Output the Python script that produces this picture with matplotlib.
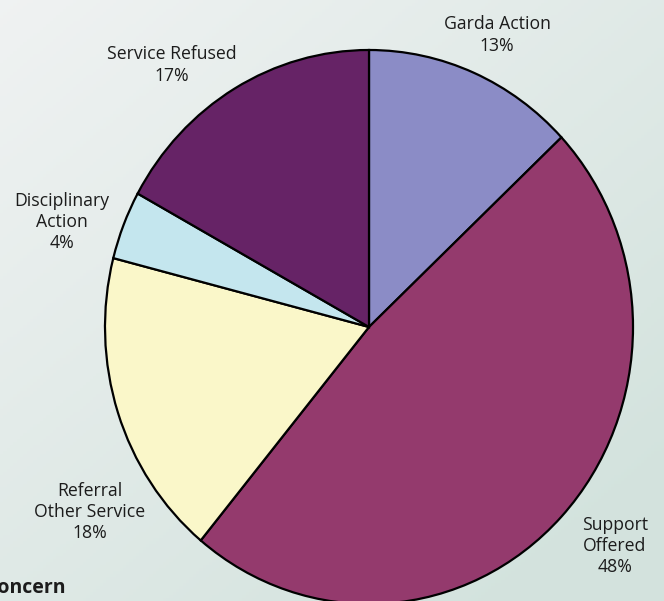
import numpy as np
import matplotlib

matplotlib.use("Agg")
import matplotlib.pyplot as plt

W, H = 664, 601

categories = ["Garda Action", "Support Offered", "Referral Other Service",
              "Disciplinary Action", "Service Refused"]
shares = [13, 48, 18, 4, 17]
label_text = ["Garda Action\n13%", "Support\nOffered\n48%", "Referral\nOther Service\n18%",
              "Disciplinary\nAction\n4%", "Service Refused\n17%"]
colors = ["#8b8cc6", "#943a6d", "#faf7c9", "#c4e6ee", "#662366"]
# label anchor points in pixels (x, y from top)
label_pos = [(497, 35), (615, 546), (90, 512), (62, 222), (172, 65)]

plt.rcParams["font.family"] = ["Open Sans", "DejaVu Sans"]

fig = plt.figure(figsize=(W / 100, H / 100), dpi=100)

# soft background gradient, light grey top-left to pale green bottom-right
bg = fig.add_axes([0, 0, 1, 1])
yy, xx = np.mgrid[0:1:200j, 0:1:200j]
t = np.clip(0.55 * xx + 0.6 * yy, 0, 1)
c0 = np.array([0.94, 0.95, 0.95])
c1 = np.array([0.83, 0.89, 0.87])
img = c0[None, None, :] * (1 - t[..., None]) + c1[None, None, :] * t[..., None]
bg.imshow(img, extent=[0, 1, 0, 1], aspect="auto", origin="upper")
bg.axis("off")

# pie axes placed so the centre sits at (369, 327) px
cx, cy, rx, ry = 369, 327, 264, 277
ax = fig.add_axes([(cx - rx) / W, (H - cy - ry) / H, 2 * rx / W, 2 * ry / H])
ax.pie(shares, colors=colors, startangle=90, counterclock=False, radius=1,
       wedgeprops=dict(edgecolor="black", linewidth=1.6))
ax.set_xlim(-1, 1)
ax.set_ylim(-1, 1)
ax.set_aspect("auto")
ax.axis("off")

for txt, (px, py) in zip(label_text, label_pos):
    fig.text(px / W, 1 - py / H, txt, ha="center", va="center",
             fontsize=12.7, color="#1c1c1c", linespacing=1.22)

# heading from the page below, cut off at the left edge in the original
fig.text(-14 / W, 1 - 588 / H, "Concern", ha="left", va="center",
         fontsize=14, fontweight="bold", color="#1c1c1c")

fig.savefig("out.png", dpi=100)
